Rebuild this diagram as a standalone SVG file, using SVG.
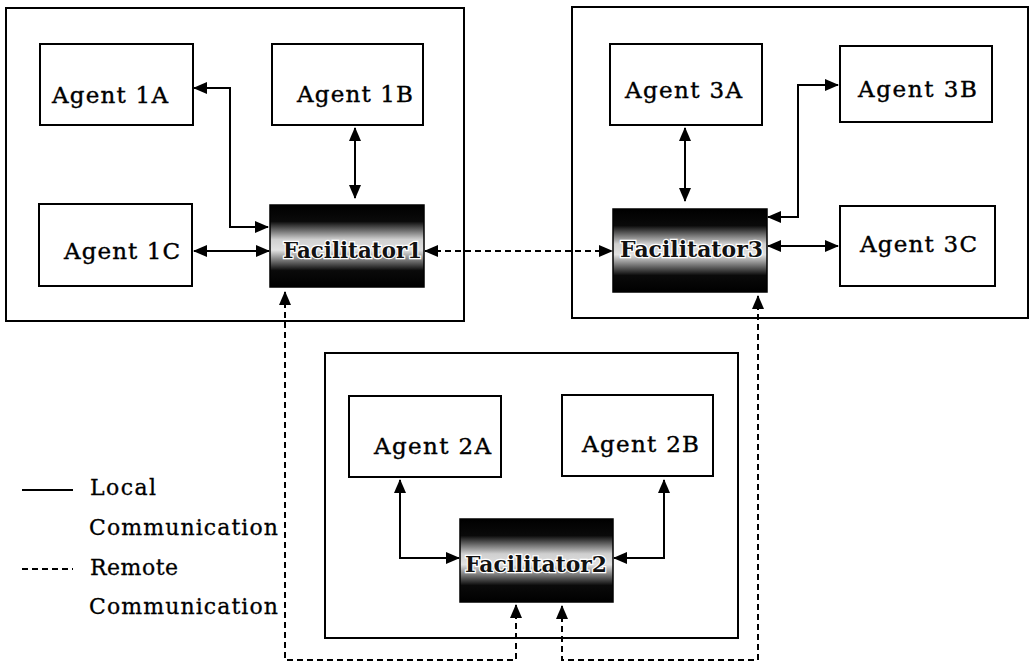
<svg xmlns="http://www.w3.org/2000/svg" width="1030" height="665" viewBox="0 0 1030 665">
  <defs>
    <linearGradient id="facGrad" x1="0" y1="0" x2="0" y2="1">
      <stop offset="0" stop-color="#000"/>
      <stop offset="0.2" stop-color="#0a0a0a"/>
      <stop offset="0.42" stop-color="#cfcfcf"/>
      <stop offset="0.55" stop-color="#e2e2e2"/>
      <stop offset="0.8" stop-color="#0a0a0a"/>
      <stop offset="1" stop-color="#000"/>
    </linearGradient>
    <marker id="arrow" viewBox="0 0 14 12" refX="13" refY="6" markerWidth="14" markerHeight="12" markerUnits="userSpaceOnUse" orient="auto-start-reverse">
      <path d="M0,0 L14,6 L0,12 Z" fill="#000"/>
    </marker>
  </defs>
  <style>
    .frame { fill: #fff; stroke: #000; stroke-width: 2; }
    .agent { fill: #fff; stroke: #000; stroke-width: 2; }
    .fac { fill: url(#facGrad); stroke: #000; stroke-width: 1.5; }
    .label { font-family: "DejaVu Serif", "Liberation Serif", serif; font-size: 23px; fill: #000; stroke: #000; stroke-width: 0.4; }
    .faclabel { font-family: "DejaVu Serif", "Liberation Serif", serif; font-size: 23px; font-weight: bold; fill: #111; stroke: #fff; stroke-width: 2.5; paint-order: stroke; }
    .legend { font-family: "DejaVu Serif", "Liberation Serif", serif; font-size: 22px; fill: #000; stroke: #000; stroke-width: 0.3; }
    .local { fill: none; stroke: #000; stroke-width: 2; }
    .remote { fill: none; stroke: #000; stroke-width: 2; stroke-dasharray: 6 4; }
  </style>

  <rect width="1030" height="665" fill="#fff"/>

  <!-- site frames -->
  <g id="site1"><rect class="frame" x="6" y="8" width="458" height="313"/></g>
  <g id="site3"><rect class="frame" x="572" y="7" width="456" height="311"/></g>
  <g id="site2"><rect class="frame" x="325" y="353" width="413" height="285"/></g>

  <!-- site 1 -->
  <g id="agent1A"><rect class="agent" x="40" y="44" width="153" height="81"/><text class="label" x="52" y="103" textLength="116">Agent 1A</text></g>
  <g id="agent1B"><rect class="agent" x="272" y="44" width="151" height="81"/><text class="label" x="297" y="102" textLength="116">Agent 1B</text></g>
  <g id="agent1C"><rect class="agent" x="39" y="204" width="153" height="82"/><text class="label" x="64" y="259" textLength="116">Agent 1C</text></g>
  <g id="facilitator1"><rect class="fac" x="270" y="205" width="154" height="82"/><text class="faclabel" x="283" y="258" textLength="139" lengthAdjust="spacingAndGlyphs">Facilitator1</text></g>

  <!-- site 3 -->
  <g id="agent3A"><rect class="agent" x="610" y="44" width="152" height="81"/><text class="label" x="625" y="98" textLength="117">Agent 3A</text></g>
  <g id="agent3B"><rect class="agent" x="840" y="46" width="152" height="76"/><text class="label" x="858" y="97" textLength="119">Agent 3B</text></g>
  <g id="agent3C"><rect class="agent" x="840" y="206" width="155" height="80"/><text class="label" x="860" y="252" textLength="117">Agent 3C</text></g>
  <g id="facilitator3"><rect class="fac" x="613" y="209" width="154" height="83"/><text class="faclabel" x="620" y="257" textLength="143" lengthAdjust="spacingAndGlyphs">Facilitator3</text></g>

  <!-- site 2 -->
  <g id="agent2A"><rect class="agent" x="349" y="396" width="152" height="81"/><text class="label" x="374" y="454" textLength="117">Agent 2A</text></g>
  <g id="agent2B"><rect class="agent" x="562" y="395" width="151" height="81"/><text class="label" x="582" y="452" textLength="117">Agent 2B</text></g>
  <g id="facilitator2"><rect class="fac" x="460" y="519" width="153" height="83"/><text class="faclabel" x="465" y="572" textLength="142" lengthAdjust="spacingAndGlyphs">Facilitator2</text></g>

  <!-- connectors -->
  <g id="connectors">
    <path class="local" d="M194,88 H230 V227 H268" marker-start="url(#arrow)" marker-end="url(#arrow)"/>
    <path class="local" d="M355,128 V198" marker-start="url(#arrow)" marker-end="url(#arrow)"/>
    <path class="local" d="M194,251 H269" marker-start="url(#arrow)" marker-end="url(#arrow)"/>
    <path class="local" d="M685,128 V201" marker-start="url(#arrow)" marker-end="url(#arrow)"/>
    <path class="local" d="M768,217 H798 V85 H838" marker-start="url(#arrow)" marker-end="url(#arrow)"/>
    <path class="local" d="M768,246 H838" marker-start="url(#arrow)" marker-end="url(#arrow)"/>
    <path class="local" d="M400,480 V558 H459" marker-start="url(#arrow)" marker-end="url(#arrow)"/>
    <path class="local" d="M664,480 V558 H614" marker-start="url(#arrow)" marker-end="url(#arrow)"/>
    <path class="remote" d="M425,251 H612" marker-start="url(#arrow)" marker-end="url(#arrow)"/>
    <path class="remote" d="M285,292 V660 H516 V605" marker-start="url(#arrow)" marker-end="url(#arrow)"/>
    <path class="remote" d="M562,606 V660 H758 V296" marker-start="url(#arrow)" marker-end="url(#arrow)"/>
  </g>

  <!-- legend -->
  <g id="legend">
    <line class="local" x1="22" y1="490" x2="73" y2="490"/>
    <text class="legend" x="90" y="495" textLength="66">Local</text>
    <text class="legend" x="89" y="535" textLength="189">Communication</text>
    <line class="remote" x1="22" y1="569" x2="73" y2="569" stroke-dasharray="8 3"/>
    <text class="legend" x="90" y="575" textLength="88">Remote</text>
    <text class="legend" x="89" y="614" textLength="189">Communication</text>
  </g>
</svg>
